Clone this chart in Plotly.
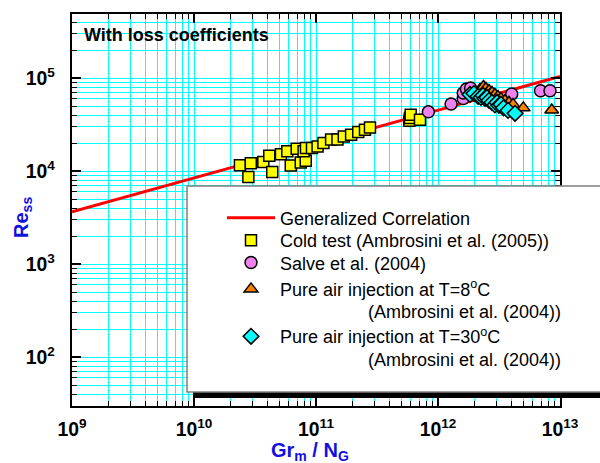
import plotly.graph_objects as go

# ---------------- data ----------------
corr_x = [1e9, 1e13]
corr_y = [3673, 104500]

cold_x = [2.38e10, 2.92e10, 2.79e10, 3.70e10, 4.14e10, 4.38e10, 5.16e10, 5.82e10, 6.21e10,
          6.95e10, 7.50e10, 8.24e10, 7.91e10, 8.28e10, 9.27e10, 1.03e11, 1.15e11, 1.33e11,
          1.50e11, 1.69e11, 1.94e11, 2.22e11, 2.52e11, 2.77e11, 5.82e11, 5.89e11, 5.97e11, 7.12e11]
cold_y = [1.16e4, 1.22e4, 8.69e3, 1.26e4, 1.47e4, 9.83e3, 1.52e4, 1.64e4, 1.15e4,
          1.74e4, 1.24e4, 1.30e4, 1.64e4, 1.78e4, 1.78e4, 1.85e4, 2.01e4, 2.19e4,
          2.19e4, 2.37e4, 2.47e4, 2.64e4, 2.80e4, 2.96e4, 3.49e4, 3.73e4, 4.05e4, 3.58e4]

salve_x = [8.34e11, 1.28e12, 1.61e12, 1.61e12, 1.71e12, 1.85e12, 4.02e12, 6.92e12, 8.28e12]
salve_y = [4.35e4, 5.28e4, 6.05e4, 6.93e4, 7.65e4, 7.85e4, 6.75e4, 7.33e4, 7.33e4]

air8_x = [2.21e12, 2.36e12, 2.47e12, 2.62e12, 2.67e12, 2.77e12, 2.93e12, 3.10e12, 3.22e12,
          3.28e12, 3.54e12, 3.82e12, 4.12e12, 5.00e12, 8.55e12]
air8_y = [7.57e4, 8.15e4, 7.76e4, 7.38e4, 6.69e4, 7.03e4, 6.69e4, 6.37e4, 5.92e4,
          6.06e4, 5.77e4, 5.49e4, 5.23e4, 4.80e4, 4.56e4]

air30_x = [1.83e12, 1.97e12, 2.13e12, 2.25e12, 2.34e12, 2.43e12, 2.52e12, 2.62e12, 2.77e12,
           2.93e12, 3.05e12, 3.16e12, 3.28e12, 3.44e12, 3.75e12, 4.28e12]
air30_y = [6.69e4, 6.85e4, 6.37e4, 6.21e4, 6.53e4, 6.06e4, 6.21e4, 5.77e4, 5.49e4,
           5.16e4, 5.49e4, 5.10e4, 5.23e4, 4.80e4, 4.51e4, 4.19e4]

x_range_log = [9, 13]
y_range_log = [1.477, 5.69]

# ---------------- figure ----------------
W, H = 600, 463
ML, MR, MT, MB = 72, 40, 12, 57
PW, PH = W - ML - MR, H - MT - MB


def px_x(p):
    return (p - ML) / PW


def px_y(p):
    return (H - MB - p) / PH


FAM = "Liberation Sans, Arial"
BLUE = "#1010E0"
fig = go.Figure()

mline = dict(color="black", width=1.5)
fig.add_trace(go.Scatter(x=corr_x, y=corr_y, mode="lines", name="Generalized Correlation",
                         line=dict(color="#FF0000", width=3), legend="legend"))
fig.add_trace(go.Scatter(x=cold_x, y=cold_y, mode="markers",
                         name="Cold test (Ambrosini et al. (2005))",
                         marker=dict(symbol="square", size=11, color="#FFFF00", line=mline),
                         legend="legend2"))
fig.add_trace(go.Scatter(x=salve_x, y=salve_y, mode="markers", name="Salve et al. (2004)",
                         marker=dict(symbol="circle", size=12, color="#EE82EE", line=mline),
                         legend="legend3"))
fig.add_trace(go.Scatter(x=air8_x, y=air8_y, mode="markers",
                         name="Pure air injection at T=8<sup>o</sup>C",
                         marker=dict(symbol="triangle-up", size=12, color="#FF7F00", line=mline),
                         legend="legend4"))
fig.add_trace(go.Scatter(x=air30_x, y=air30_y, mode="markers",
                         name="Pure air injection at T=30<sup>o</sup>C",
                         marker=dict(symbol="diamond", size=12, color="#00FFFF", line=mline),
                         legend="legend5"))

# legend box + shadow
fig.add_shape(type="rect", xref="paper", yref="paper", layer="above",
              x0=px_x(193), x1=px_x(610), y0=px_y(398), y1=px_y(191),
              fillcolor="black", line=dict(width=0))
fig.add_shape(type="rect", xref="paper", yref="paper", layer="above",
              x0=px_x(187), x1=px_x(606), y0=px_y(392), y1=px_y(185),
              fillcolor="white", line=dict(color="#808080", width=1.5))

leg_font = dict(family=FAM, size=18, color="black")
leg_common = dict(bgcolor="rgba(0,0,0,0)", borderwidth=0, font=leg_font, xanchor="left",
                  yanchor="top", itemwidth=48, valign="top", x=px_x(222))
tops = [198.5, 221, 243.5, 270, 317.7]

axis_common = dict(
    type="log", showline=True, linecolor="black", linewidth=2, mirror="ticks",
    ticks="inside", ticklen=9, tickwidth=1.5, tickcolor="black",
    showgrid=True, gridcolor="#00FFFF", gridwidth=1,
    dtick=1, exponentformat="power", zeroline=False,
    tickfont=dict(family=FAM, size=15.5, color="black", weight="bold"),
    minor=dict(dtick="D1", ticks="inside", ticklen=5, tickwidth=1, tickcolor="black",
               showgrid=True, gridcolor="#00FFFF", gridwidth=1),
)

fig.update_layout(
    width=W, height=H, margin=dict(l=ML, r=MR, t=MT, b=MB),
    paper_bgcolor="white", plot_bgcolor="white",
    showlegend=True,
    xaxis=dict(axis_common, range=x_range_log, ticklabelstandoff=6),
    yaxis=dict(axis_common, range=y_range_log, ticklabelstandoff=12),
    legend=dict(leg_common, y=px_y(tops[0])),
    legend2=dict(leg_common, y=px_y(tops[1])),
    legend3=dict(leg_common, y=px_y(tops[2])),
    legend4=dict(leg_common, y=px_y(tops[3])),
    legend5=dict(leg_common, y=px_y(tops[4])),
)

# second lines of the two-line legend entries
for yc in (311.5, 359.3):
    fig.add_annotation(text="(Ambrosini et al. (2004))", xref="paper", yref="paper",
                       x=px_x(366), y=px_y(yc), xanchor="left", yanchor="middle",
                       showarrow=False, font=leg_font)

# axis titles
fig.add_annotation(text="<b>Gr<sub>m</sub> / N<sub>G</sub></b>", xref="paper", yref="paper",
                   x=px_x(269), y=px_y(452), xanchor="left", yanchor="middle", showarrow=False,
                   font=dict(family=FAM, size=20, color=BLUE))
fig.add_annotation(text="<b>Re<sub>ss</sub></b>", xref="paper", yref="paper", textangle=-90,
                   x=px_x(23), y=px_y(217), xanchor="center", yanchor="middle", showarrow=False,
                   font=dict(family=FAM, size=20, color=BLUE))

fig.add_annotation(text="<b>With loss coefficients</b>", xref="paper", yref="paper",
                   x=px_x(82), y=px_y(33), xanchor="left", yanchor="middle", showarrow=False,
                   font=dict(family=FAM, size=18, color="black"))

fig.write_html("out.html")
